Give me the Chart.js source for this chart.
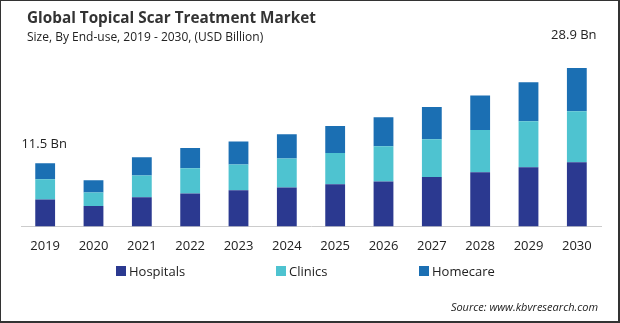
<!DOCTYPE html>
<html>
<head>
<meta charset="utf-8">
<script src="https://cdn.jsdelivr.net/npm/chart.js@4.4.1/dist/chart.umd.min.js"></script>
<style>
  html, body { margin: 0; padding: 0; background: #fff; }
  #wrap { position: relative; width: 620px; height: 323px; box-sizing: border-box; border: 1px solid #333; border-width: 1px 2px 2px 1px; overflow: hidden; font-family: "Open Sans", "Noto Sans", sans-serif; }
  #c { position: absolute; left: 0; top: 0; }
  .title { position: absolute; left: 26px; top: 6px; font-size: 15.3px; font-weight: 700; color: #333; }
  .sub { position: absolute; left: 26px; top: 27px; font-size: 12px; color: #222; }
  .legend { position: absolute; top: 261px; left: 0; width: 620px; height: 18px; font-size: 13px; color: #222; }
  .li { position: absolute; top: 0; display: flex; align-items: center; }
  .sw { width: 10px; height: 10px; margin-right: 3px; }
  .src { position: absolute; right: 20px; top: 298px; font-size: 11px; font-style: italic; color: #222; }
</style>
</head>
<body>
<div id="wrap">
  <canvas id="c" width="620" height="323"></canvas>
  <div class="title">Global Topical Scar Treatment Market</div>
  <div class="sub">Size, By End-use, 2019 - 2030, (USD Billion)</div>
  <div class="legend">
    <div class="li" style="left:115px"><span class="sw" style="background:#2b3990"></span>Hospitals</div>
    <div class="li" style="left:275px"><span class="sw" style="background:#4ec3d0"></span>Clinics</div>
    <div class="li" style="left:418px"><span class="sw" style="background:#1b6fb3"></span>Homecare</div>
  </div>
  <div class="src">Source: www.kbvresearch.com</div>
</div>
<script>
const years = ["2019","2020","2021","2022","2023","2024","2025","2026","2027","2028","2029","2030"];
const hospitals = [4.9, 3.7, 5.3, 6.0, 6.6, 7.1, 7.7, 8.2, 9.0, 9.9, 10.8, 11.7];
const clinics   = [3.7, 2.5, 4.0, 4.6, 4.7, 5.3, 5.7, 6.4, 6.9, 7.7, 8.4, 9.3];
const homecare  = [2.9, 2.2, 3.3, 3.7, 4.2, 4.4, 4.9, 5.3, 5.9, 6.3, 7.1, 7.9];
const labelText = ["11.5 Bn", "28.9 Bn"];
const labelIdx = [0, 11];

const annot = {
  id: 'annot',
  afterDatasetsDraw(chart) {
    const ctx = chart.ctx;
    const meta = chart.getDatasetMeta(2);
    const offs = [19, 33];
    ctx.save();
    ctx.font = '13px "Open Sans", "Noto Sans", sans-serif';
    ctx.fillStyle = '#222';
    ctx.textAlign = 'center';
    ctx.textBaseline = 'middle';
    labelIdx.forEach((idx, k) => {
      const b = meta.data[idx];
      ctx.fillText(labelText[k], b.x + (k === 1 ? -3 : -1), b.y - offs[k]);
    });
    ctx.restore();
  }
};

new Chart(document.getElementById('c'), {
  type: 'bar',
  data: {
    labels: years,
    datasets: [
      { label: 'Hospitals', data: hospitals, backgroundColor: '#2b3990' },
      { label: 'Clinics', data: clinics, backgroundColor: '#4ec3d0' },
      { label: 'Homecare', data: homecare, backgroundColor: '#1b6fb3' }
    ]
  },
  options: {
    responsive: false,
    animation: false,
    devicePixelRatio: 1,
    layout: { padding: { left: 20, right: 20, top: 50, bottom: 66 } },
    plugins: { legend: { display: false }, tooltip: { enabled: false }, title: { display: false } },
    datasets: { bar: { barPercentage: 0.41, categoryPercentage: 1.0 } },
    scales: {
      x: {
        stacked: true,
        grid: { display: false },
        border: { display: true, color: '#cccccc', width: 1 },
        ticks: { color: '#222', font: { size: 13, family: '"Open Sans", "Noto Sans", sans-serif' }, padding: 4, maxRotation: 0 }
      },
      y: {
        stacked: true,
        display: false,
        min: 0,
        max: 32
      }
    }
  },
  plugins: [annot]
});
</script>
</body>
</html>
